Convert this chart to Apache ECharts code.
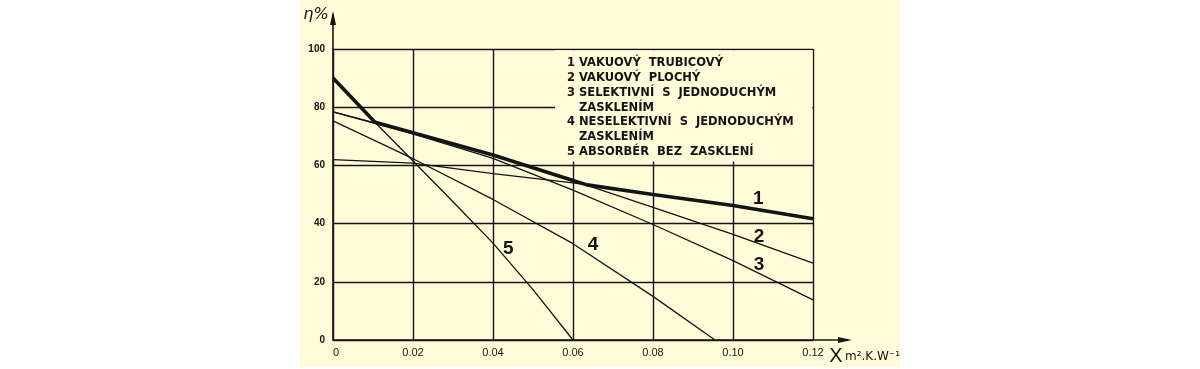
<!DOCTYPE html>
<html><head><meta charset="utf-8">
<script src="https://cdn.jsdelivr.net/npm/echarts@6/dist/echarts.min.js"></script>
<style>html,body{margin:0;padding:0;background:#fff}#c{width:1200px;height:369px}</style>
</head><body><div id="c"></div>
<script>
// ---- data ----
const xTickLabels = ['0', '0.02', '0.04', '0.06', '0.08', '0.10', '0.12'];
const yTickLabels = ['0', '20', '40', '60', '80', '100'];
const curve1 = [[0, 62.0], [0.02, 60.8], [0.04, 57.2], [0.06, 54.0], [0.08, 50.0], [0.10, 46.2], [0.12, 41.7]];
const curve2 = [[0, 78.4], [0.02, 71.2], [0.04, 63.6], [0.06, 54.8], [0.08, 45.6], [0.10, 36.3], [0.12, 26.4]];
const curve3 = [[0, 78.4], [0.02, 70.8], [0.04, 62.4], [0.06, 51.5], [0.08, 39.7], [0.10, 27.3], [0.12, 13.8]];
const curve4 = [[0, 75.3], [0.02, 62.3], [0.04, 48.3], [0.06, 33.1], [0.08, 15.0], [0.0955, 0]];
const curve5 = [[0, 90], [0.01, 75.5], [0.02, 61.5], [0.03, 47.5], [0.04, 33.3], [0.05, 17.3], [0.06, 0]];
const envelope = [[0, 90], [0.0105, 74.8], [0.02, 71.2], [0.04, 63.6], [0.06, 54.8], [0.0635, 53.3], [0.08, 50.0], [0.10, 46.2], [0.12, 41.7]];
const curveNames = ['1', '2', '3', '4', '5'];
const legendNumbers = ['1', '2', '3', '', '4', '', '5'];
const legendTexts = ['VAKUOVÝ  TRUBICOVÝ', 'VAKUOVÝ  PLOCHÝ', 'SELEKTIVNÍ  S  JEDNODUCHÝM', 'ZASKLENÍM',
  'NESELEKTIVNÍ  S  JEDNODUCHÝM', 'ZASKLENÍM', 'ABSORBÉR  BEZ  ZASKLENÍ'];
const yAxisTitle = 'η%';
const xAxisTitleMain = 'X';
const xAxisTitleUnit = 'm².K.W⁻¹';

(function () {
const INK = '#141414';
const BG = '#fefcd8';
const chart = echarts.init(document.getElementById('c'), null, { renderer: 'canvas' });
const thin = (d) => ({ type: 'line', data: d, showSymbol: false, silent: true, z: 3,
  lineStyle: { color: INK, width: 1.3 } });
chart.setOption({
  animation: false,
  backgroundColor: '#ffffff',
  grid: { left: 333, right: 387, top: 49, bottom: 29 },
  xAxis: {
    type: 'value', min: 0, max: 0.12, interval: 0.02,
    axisLine: { show: true, lineStyle: { color: INK, width: 1.6 } },
    axisTick: { show: false },
    axisLabel: { color: INK, fontSize: 11, fontFamily: 'Liberation Sans', margin: 7,
      alignMinLabel: 'left',
      formatter: (v) => xTickLabels[Math.round(v / 0.02)] },
    splitLine: { show: true, lineStyle: { color: INK, width: 1.4 } }
  },
  yAxis: {
    type: 'value', min: 0, max: 100, interval: 20,
    axisLine: { show: true, lineStyle: { color: INK, width: 1.6 } },
    axisTick: { show: false },
    axisLabel: { color: INK, fontSize: 10, fontWeight: 'bold', fontFamily: 'Liberation Sans', margin: 8,
      formatter: (v) => yTickLabels[Math.round(v / 20)] },
    splitLine: { show: true, lineStyle: { color: INK, width: 1.4 } }
  },
  series: [thin(curve1), thin(curve2), thin(curve3), thin(curve4), thin(curve5),
    { type: 'line', data: envelope, showSymbol: false, silent: true, z: 4,
      lineStyle: { color: INK, width: 3.6, join: 'round' } }]
});

const p = (x, y) => chart.convertToPixel({ gridIndex: 0 }, [x, y]);
const o = p(0, 0), topP = p(0, 100), xEnd = p(0.12, 0);
const boxTL = p(0.0555, 100), boxBR = p(0.12, 61.3);
const g = [];
g.push({ type: 'rect', z: -10, silent: true, shape: { x: 300, y: 0, width: 600, height: 367 }, style: { fill: BG } });
g.push({ type: 'rect', z: 1, silent: true,
  shape: { x: boxTL[0], y: boxTL[1] + 1.2, width: boxBR[0] - boxTL[0] - 0.6, height: boxBR[1] - boxTL[1] - 1.2 },
  style: { fill: BG } });
g.push({ type: 'line', z: 5, shape: { x1: o[0], y1: topP[1], x2: o[0], y2: 14 }, style: { stroke: INK, lineWidth: 1.6 } });
g.push({ type: 'polygon', z: 5, shape: { points: [[o[0], 11], [o[0] - 3, 25], [o[0] + 3, 25]] }, style: { fill: INK } });
g.push({ type: 'line', z: 5, shape: { x1: xEnd[0], y1: o[1], x2: 848, y2: o[1] }, style: { stroke: INK, lineWidth: 1.6 } });
g.push({ type: 'polygon', z: 5, shape: { points: [[852, o[1]], [838, o[1] - 3], [838, o[1] + 3]] }, style: { fill: INK } });
const LF = 'bold 11.5px "DejaVu Sans"';
legendTexts.forEach((t, i) => {
  const y = 63.5 + i * 14.7;
  if (legendNumbers[i]) g.push({ type: 'text', z: 6, x: 567, y: y,
    style: { text: legendNumbers[i], fill: INK, font: LF, textAlign: 'left', textVerticalAlign: 'middle' } });
  g.push({ type: 'text', z: 6, x: 579, y: y,
    style: { text: t, fill: INK, font: LF, textAlign: 'left', textVerticalAlign: 'middle' } });
});
const labelAt = [[0.1063, 48.4], [0.1065, 35.5], [0.1065, 26.0], [0.065, 32.8], [0.0438, 31.4]];
curveNames.forEach((n, i) => {
  const q = p(labelAt[i][0], labelAt[i][1]);
  g.push({ type: 'text', z: 6, x: q[0], y: q[1],
    style: { text: n, fill: INK, font: 'bold 19px "Liberation Sans"', textAlign: 'center', textVerticalAlign: 'middle' } });
});
g.push({ type: 'text', z: 6, x: 316, y: 15,
  style: { text: yAxisTitle, fill: INK, font: 'italic 16px "DejaVu Sans"', textAlign: 'center', textVerticalAlign: 'middle' } });
g.push({ type: 'text', z: 6, x: 836, y: 356,
  style: { text: xAxisTitleMain, fill: INK, font: '20px "Liberation Sans"', textAlign: 'center', textVerticalAlign: 'middle' } });
g.push({ type: 'text', z: 6, x: 845, y: 357,
  style: { text: xAxisTitleUnit, fill: INK, font: '12px "DejaVu Sans"', textAlign: 'left', textVerticalAlign: 'middle' } });
chart.setOption({ graphic: g });
})();
</script></body></html>
